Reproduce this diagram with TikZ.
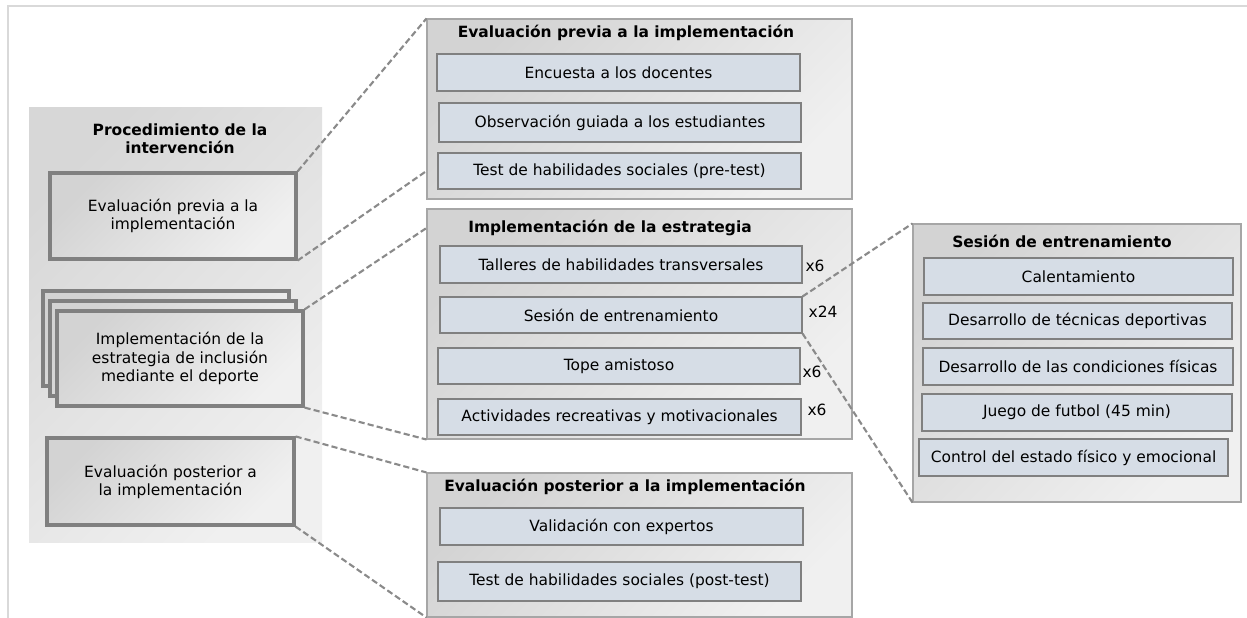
\documentclass[tikz,border=0pt]{standalone}
\usepackage{fontspec}
\setmainfont{DejaVu Sans}
\usetikzlibrary{positioning,calc}
\definecolor{framegray}{HTML}{D9D9D9}
\definecolor{edgegray}{HTML}{808080}
\definecolor{dashgray}{HTML}{8A8A8A}
\definecolor{linegray}{HTML}{A6A6A6}
\definecolor{itemblue}{HTML}{D6DDE6}
\definecolor{shadedark}{HTML}{D3D3D3}
\definecolor{shadelight}{HTML}{F0F0F0}
\tikzset{
  boxdim/.style 2 args={minimum width=#1*0.02cm, minimum height=#2*0.02cm},
  panel/.style={inner sep=0pt, top color=shadedark!90!white, bottom color=shadelight, shading angle=45},
  stage/.style={draw=edgegray, line width=1.8pt, top color=shadedark, bottom color=shadelight,
    shading angle=45, align=center, inner sep=2pt},
  group/.style={draw=linegray, line width=0.6pt, top color=shadedark, bottom color=shadelight,
    shading angle=45, inner sep=0pt},
  item/.style={draw=edgegray, line width=0.6pt, fill=itemblue, inner sep=2pt},
  heading/.style={font=\fontsize{8.8}{10.3}\selectfont\bfseries, align=center, inner sep=0pt},
  times/.style={inner sep=0pt},
  link/.style={draw=dashgray, line width=1.2pt, dash pattern=on 3.5pt off 1.8pt}
}
\begin{document}
\begin{tikzpicture}[x=0.02cm, y=-0.02cm, font=\fontsize{8.8}{10.3}\selectfont]
	\useasboundingbox (0,0) rectangle (1247,618);
	\draw[framegray, line width=1.2pt] (8,618) -- (8,6) -- (1247,6);

	\node[panel, boxdim={293}{434}] (P) at (175.5,325) {};
	\node[heading] (PT) at (180,139) {Procedimiento de la\\intervención};
	\node[stage, boxdim={246}{86}] (L1) at (173,216) {Evaluación previa a la\\implementación};
	\node[stage, boxdim={246}{95}] (S1) at (166,338.5) {};
	\node[stage, boxdim={246}{95}] (S2) at (173,348.5) {};
	\node[stage, boxdim={246}{95}] (S3) at (180,358.5) {Implementación de la\\estrategia de inclusión\\mediante el deporte};
	\node[stage, boxdim={247}{87}] (L3) at (170.5,481.5) {Evaluación posterior a\\la implementación};

	\node[group, boxdim={425}{180}] (M1) at (639.5,109) {};
	\node[heading] (H1) at (626,33) {Evaluación previa a la implementación};
	\node[item, boxdim={363}{37}] (E1) at (618.5,72.5) {Encuesta a los docentes};
	\node[item, boxdim={362}{39}] (E2) at (620,122.5) {Observación guiada a los estudiantes};
	\node[item, boxdim={363}{36}] (E3) at (619.5,171) {Test de habilidades sociales (pre-test)};

	\node[group, boxdim={425}{230}] (M2) at (639.5,324) {};
	\node[heading] (H2) at (610,228) {Implementación de la estrategia};
	\node[item, boxdim={362}{37}] (T1) at (621,264.5) {Talleres de habilidades transversales};
	\node[item, boxdim={362}{36}] (T2) at (621,315) {Sesión de entrenamiento};
	\node[item, boxdim={362}{36}] (T3) at (619,366) {Tope amistoso};
	\node[item, boxdim={363}{36}] (T4) at (619.5,417) {Actividades recreativas y motivacionales};
	\node[times] (N1) at (815,266) {x6};
	\node[times] (N2) at (823,312) {x24};
	\node[times] (N3) at (812,372) {x6};
	\node[times] (N4) at (817,410) {x6};

	\node[group, boxdim={425}{144}] (M3) at (639.5,545) {};
	\node[heading] (H3) at (625,487) {Evaluación posterior a la implementación};
	\node[item, boxdim={363}{37}] (V1) at (621.5,526.5) {Validación con expertos};
	\node[item, boxdim={363}{39}] (V2) at (619.5,581.5) {Test de habilidades sociales (post-test)};

	\node[group, boxdim={328}{278}] (R) at (1077,363) {};
	\node[heading] (HR) at (1062,241) {Sesión de entrenamiento};
	\node[item, boxdim={309}{37}] (C1) at (1078.5,276.5) {Calentamiento};
	\node[item, boxdim={309}{36}] (C2) at (1077.5,321) {Desarrollo de técnicas deportivas};
	\node[item, boxdim={310}{37}] (C3) at (1078,366.5) {Desarrollo de las condiciones físicas};
	\node[item, boxdim={310}{37}] (C4) at (1077,412.5) {Juego de futbol (45 min)};
	\node[item, boxdim={309}{37}] (C5) at (1073.5,457.5) {Control del estado físico y emocional};

	\draw [link] (L1.north east) -- (M1.north west);
	\draw [link] (L1.south east) -- (M1.west |- E3);
	\draw [link] (S3.north east) -- (M2.west |- H2);
	\draw [link] (S3.south east) -- (M2.south west);
	\draw [link] (L3.north east) -- (M3.north west);
	\draw [link] (L3.south east) -- (M3.south west);
	\draw [link] (T2.north east) -- (R.north west);
	\draw [link] (T2.south east) -- (R.south west);
\end{tikzpicture}
\end{document}
